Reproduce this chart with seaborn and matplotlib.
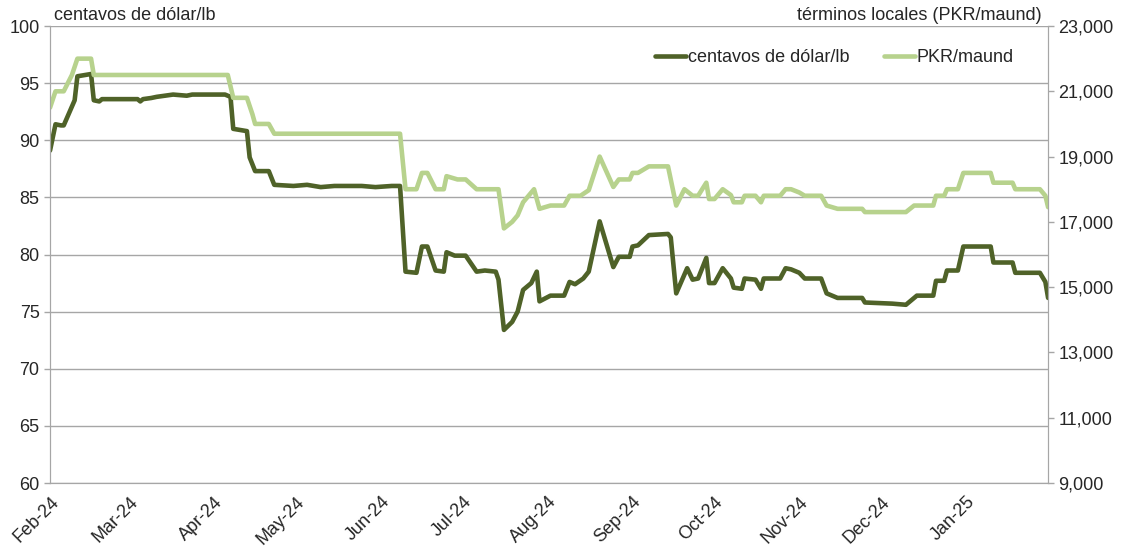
import pandas as pd
import seaborn as sns
import matplotlib.pyplot as plt
import matplotlib.dates as mdates
from matplotlib.ticker import FuncFormatter

# precio en centavos de dólar/lb
fechas_usc = ['2024-02-01', '2024-02-03', '2024-02-05', '2024-02-06', '2024-02-10', '2024-02-11',
              '2024-02-16', '2024-02-17', '2024-02-19', '2024-02-20', '2024-03-04', '2024-03-05',
              '2024-03-06', '2024-03-09', '2024-03-11', '2024-03-17', '2024-03-22', '2024-03-24',
              '2024-04-05', '2024-04-07', '2024-04-08', '2024-04-13', '2024-04-14', '2024-04-16',
              '2024-04-21', '2024-04-23', '2024-04-30', '2024-05-05', '2024-05-10', '2024-05-15',
              '2024-05-20', '2024-05-25', '2024-05-30', '2024-06-05', '2024-06-08', '2024-06-10',
              '2024-06-14', '2024-06-16', '2024-06-18', '2024-06-21', '2024-06-24', '2024-06-25',
              '2024-06-28', '2024-07-02', '2024-07-06', '2024-07-09', '2024-07-13', '2024-07-14',
              '2024-07-16', '2024-07-19', '2024-07-21', '2024-07-23', '2024-07-26', '2024-07-28',
              '2024-07-29', '2024-08-02', '2024-08-07', '2024-08-09', '2024-08-11', '2024-08-14',
              '2024-08-16', '2024-08-20', '2024-08-25', '2024-08-27', '2024-08-31', '2024-09-01',
              '2024-09-03', '2024-09-07', '2024-09-14', '2024-09-15', '2024-09-17', '2024-09-21',
              '2024-09-23', '2024-09-25', '2024-09-28', '2024-09-29', '2024-10-01', '2024-10-04',
              '2024-10-07', '2024-10-08', '2024-10-11', '2024-10-12', '2024-10-16', '2024-10-18',
              '2024-10-19', '2024-10-25', '2024-10-27', '2024-10-29', '2024-11-01', '2024-11-03',
              '2024-11-09', '2024-11-11', '2024-11-15', '2024-11-24', '2024-11-25', '2024-12-05',
              '2024-12-10', '2024-12-14', '2024-12-20', '2024-12-21', '2024-12-24', '2024-12-25',
              '2024-12-29', '2024-12-31', '2025-01-10', '2025-01-11', '2025-01-18', '2025-01-19',
              '2025-01-28', '2025-01-30', '2025-01-31']
usc = [89.1, 91.4, 91.3, 91.3, 93.5, 95.6,
       95.8, 93.5, 93.4, 93.6, 93.6, 93.4,
       93.6, 93.7, 93.8, 94.0, 93.9, 94.0,
       94.0, 93.8, 91.0, 90.8, 88.5, 87.3,
       87.3, 86.1, 86.0, 86.1, 85.9, 86.0,
       86.0, 86.0, 85.9, 86.0, 86.0, 78.5,
       78.4, 80.7, 80.7, 78.6, 78.5, 80.2,
       79.9, 79.9, 78.5, 78.6, 78.5, 77.8,
       73.4, 74.1, 75.0, 76.9, 77.5, 78.5,
       75.9, 76.4, 76.4, 77.6, 77.4, 77.9,
       78.5, 82.9, 78.9, 79.8, 79.8, 80.7,
       80.8, 81.7, 81.8, 81.5, 76.6, 78.8,
       77.8, 77.9, 79.7, 77.5, 77.5, 78.8,
       77.9, 77.1, 77.0, 77.9, 77.8, 77.0,
       77.9, 77.9, 78.8, 78.7, 78.4, 77.9,
       77.9, 76.6, 76.2, 76.2, 75.8, 75.7,
       75.6, 76.4, 76.4, 77.7, 77.7, 78.6,
       78.6, 80.7, 80.7, 79.3, 79.3, 78.4,
       78.4, 77.6, 76.2]

# precio en términos locales (PKR/maund)
fechas_pkr = ['2024-02-01', '2024-02-03', '2024-02-06', '2024-02-09', '2024-02-11', '2024-02-16',
              '2024-02-17', '2024-04-06', '2024-04-08', '2024-04-13', '2024-04-15', '2024-04-16',
              '2024-04-21', '2024-04-23', '2024-06-08', '2024-06-10', '2024-06-14', '2024-06-16',
              '2024-06-18', '2024-06-21', '2024-06-24', '2024-06-25', '2024-06-29', '2024-07-02',
              '2024-07-06', '2024-07-14', '2024-07-16', '2024-07-19', '2024-07-21', '2024-07-23',
              '2024-07-27', '2024-07-29', '2024-08-02', '2024-08-07', '2024-08-09', '2024-08-13',
              '2024-08-16', '2024-08-20', '2024-08-25', '2024-08-27', '2024-08-31', '2024-09-01',
              '2024-09-03', '2024-09-07', '2024-09-14', '2024-09-17', '2024-09-20', '2024-09-23',
              '2024-09-25', '2024-09-28', '2024-09-29', '2024-10-01', '2024-10-04', '2024-10-07',
              '2024-10-08', '2024-10-11', '2024-10-12', '2024-10-16', '2024-10-18', '2024-10-19',
              '2024-10-25', '2024-10-27', '2024-10-29', '2024-11-01', '2024-11-03', '2024-11-09',
              '2024-11-11', '2024-11-15', '2024-11-24', '2024-11-25', '2024-12-10', '2024-12-13',
              '2024-12-20', '2024-12-21', '2024-12-24', '2024-12-25', '2024-12-29', '2024-12-31',
              '2025-01-10', '2025-01-11', '2025-01-18', '2025-01-19', '2025-01-28', '2025-01-30',
              '2025-01-31']
pkr = [20500, 21000, 21000, 21500, 22000, 22000,
       21500, 21500, 20800, 20800, 20300, 20000,
       20000, 19700, 19700, 18000, 18000, 18500,
       18500, 18000, 18000, 18400, 18300, 18300,
       18000, 18000, 16800, 17000, 17200, 17600,
       18000, 17400, 17500, 17500, 17800, 17800,
       17970, 19000, 18070, 18300, 18300, 18500,
       18500, 18700, 18700, 17500, 18000, 17800,
       17800, 18200, 17700, 17700, 18000, 17820,
       17600, 17600, 17800, 17800, 17600, 17800,
       17800, 18000, 18000, 17900, 17800, 17800,
       17500, 17400, 17400, 17300, 17300, 17500,
       17500, 17800, 17800, 18000, 18000, 18500,
       18500, 18200, 18200, 18000, 18000, 17800,
       17450]

meses = pd.date_range('2024-02-01', '2025-01-01', freq='MS')

verde_oscuro = '#4f6228'
verde_claro = '#b7d28d'
gris = '#a6a6a6'

sns.set_style('white')
plt.rcParams['font.family'] = ['Liberation Sans', 'DejaVu Sans']
plt.rcParams['font.size'] = 13

df_usc = pd.DataFrame({'fecha': pd.to_datetime(fechas_usc), 'valor': usc})
df_pkr = pd.DataFrame({'fecha': pd.to_datetime(fechas_pkr), 'valor': pkr})

fig, ax = plt.subplots(figsize=(11.27, 5.5), dpi=100)
fig.subplots_adjust(left=0.0444, right=0.930, bottom=0.1218, top=0.9527)
ax2 = ax.twinx()

sns.lineplot(data=df_usc, x='fecha', y='valor', ax=ax, color=verde_oscuro, lw=3.3)
sns.lineplot(data=df_pkr, x='fecha', y='valor', ax=ax2, color=verde_claro, lw=3.3)

ax.set_xlim(pd.Timestamp('2024-02-01'), pd.Timestamp('2025-01-31'))
ax.set_ylim(60, 100)
ax.set_yticks(range(60, 101, 5))
ax2.set_ylim(9000, 23000)
ax2.set_yticks(range(9000, 23001, 2000))
ax2.yaxis.set_major_formatter(FuncFormatter(lambda v, p: f'{int(v):,}'))

ax.set_xticks(meses)
ax.xaxis.set_major_formatter(mdates.DateFormatter('%b-%y'))
plt.setp(ax.get_xticklabels(), rotation=45, ha='right', rotation_mode='anchor')

ax.yaxis.grid(True, color=gris, lw=1)
ax.set_axisbelow(True)
for a in (ax, ax2):
    a.set_xlabel('')
    a.set_ylabel('')
    a.spines['top'].set_visible(False)
    for s in ('left', 'right', 'bottom'):
        a.spines[s].set_color(gris)
    a.tick_params(axis='both', colors='#262626', labelsize=13, length=4, width=1)
    a.tick_params(axis='both', color=gris)

fig.text(54 / 1127, 1 - 16 / 550, 'centavos de dólar/lb', ha='left', va='center', fontsize=13)
fig.text(1042 / 1127, 1 - 16 / 550, 'términos locales (PKR/maund)', ha='right', va='center', fontsize=13)

lineas = [ax.get_lines()[0], ax2.get_lines()[0]]
ax2.legend(lineas, ['centavos de dólar/lb', 'PKR/maund'], loc='upper right',
           bbox_to_anchor=(1014 / 1127, 1 - 49 / 550), bbox_transform=fig.transFigure,
           borderaxespad=0, borderpad=0, ncol=2, frameon=False, fontsize=13,
           handlelength=1.7, handletextpad=0.12, columnspacing=1.9)

fig.savefig('out.png', dpi=100)
